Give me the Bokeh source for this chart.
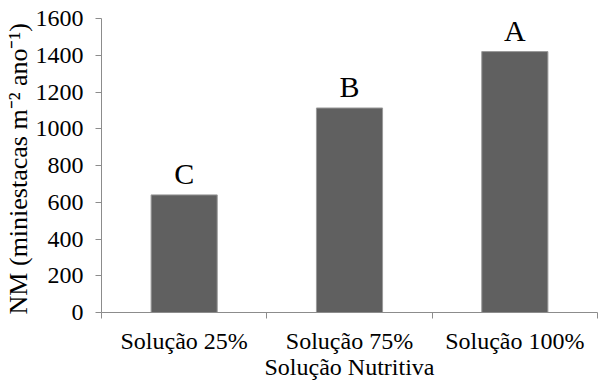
from bokeh.plotting import figure
from bokeh.models import ColumnDataSource, Range1d, FixedTicker
from bokeh.core.properties import value
from bokeh.embed import file_html
from bokeh.resources import INLINE

categories = ["Solução 25%", "Solução 75%", "Solução 100%"]
nm_values = [640, 1113, 1420]
letters = ["C", "B", "A"]
y_ticks = [0, 200, 400, 600, 800, 1000, 1200, 1400, 1600]

FONT = "Liberation Serif"
xs = [i + 0.5 for i in range(len(categories))]
src = ColumnDataSource(dict(x=xs, top=nm_values, letter=letters))

p = figure(width=598, height=387, output_backend="svg", toolbar_location=None,
           x_range=Range1d(0, len(categories)), y_range=Range1d(0, 1600),
           min_border_left=101, min_border_right=1, min_border_top=18,
           min_border_bottom=75)
p.outline_line_color = None
p.xgrid.visible = False
p.ygrid.visible = False

p.vbar(x="x", top="top", width=0.4, bottom=0, source=src,
       fill_color="#606060", line_color="#9a9a9a", line_width=1)
p.text(x="x", y="top", text="letter", source=src, text_align="center",
       text_baseline="bottom", y_offset=-5, text_font=value(FONT),
       text_font_size="30px", text_color="#000000")

# x axis
p.xaxis.ticker = FixedTicker(ticks=xs, minor_ticks=list(range(len(categories) + 1)))
p.xaxis.major_label_overrides = {x: c for x, c in zip(xs, categories)}
p.xaxis.major_tick_out = 0
p.xaxis.major_tick_in = 0
p.xaxis.minor_tick_out = 6
p.xaxis.minor_tick_in = 0
p.xaxis.minor_tick_line_color = "#8c8c8c"
p.xaxis.axis_line_color = "#8c8c8c"
p.xaxis.major_label_text_font = FONT
p.xaxis.major_label_text_font_size = "24px"
p.xaxis.major_label_text_color = "#000000"
p.xaxis.major_label_standoff = 9
p.xaxis.axis_label = "Solução Nutritiva"
p.xaxis.axis_label_text_font = FONT
p.xaxis.axis_label_text_font_size = "24px"
p.xaxis.axis_label_text_font_style = "normal"
p.xaxis.axis_label_text_color = "#000000"
p.xaxis.axis_label_standoff = -3

# y axis
p.yaxis.ticker = FixedTicker(ticks=y_ticks)
p.yaxis.minor_tick_line_color = None
p.yaxis.major_tick_out = 6
p.yaxis.major_tick_in = 0
p.yaxis.major_tick_line_color = "#8c8c8c"
p.yaxis.axis_line_color = "#8c8c8c"
p.yaxis.major_label_text_font = FONT
p.yaxis.major_label_text_font_size = "24px"
p.yaxis.major_label_text_color = "#000000"
p.yaxis.major_label_standoff = 12
p.yaxis.axis_label = "NM (miniestacas m⁻²  ano⁻¹)"
p.yaxis.axis_label_text_font = FONT
p.yaxis.axis_label_text_font_size = "26px"
p.yaxis.axis_label_text_font_style = "normal"
p.yaxis.axis_label_text_color = "#000000"
p.yaxis.axis_label_standoff = 0

open("out.html", "w").write(file_html(p, INLINE))
